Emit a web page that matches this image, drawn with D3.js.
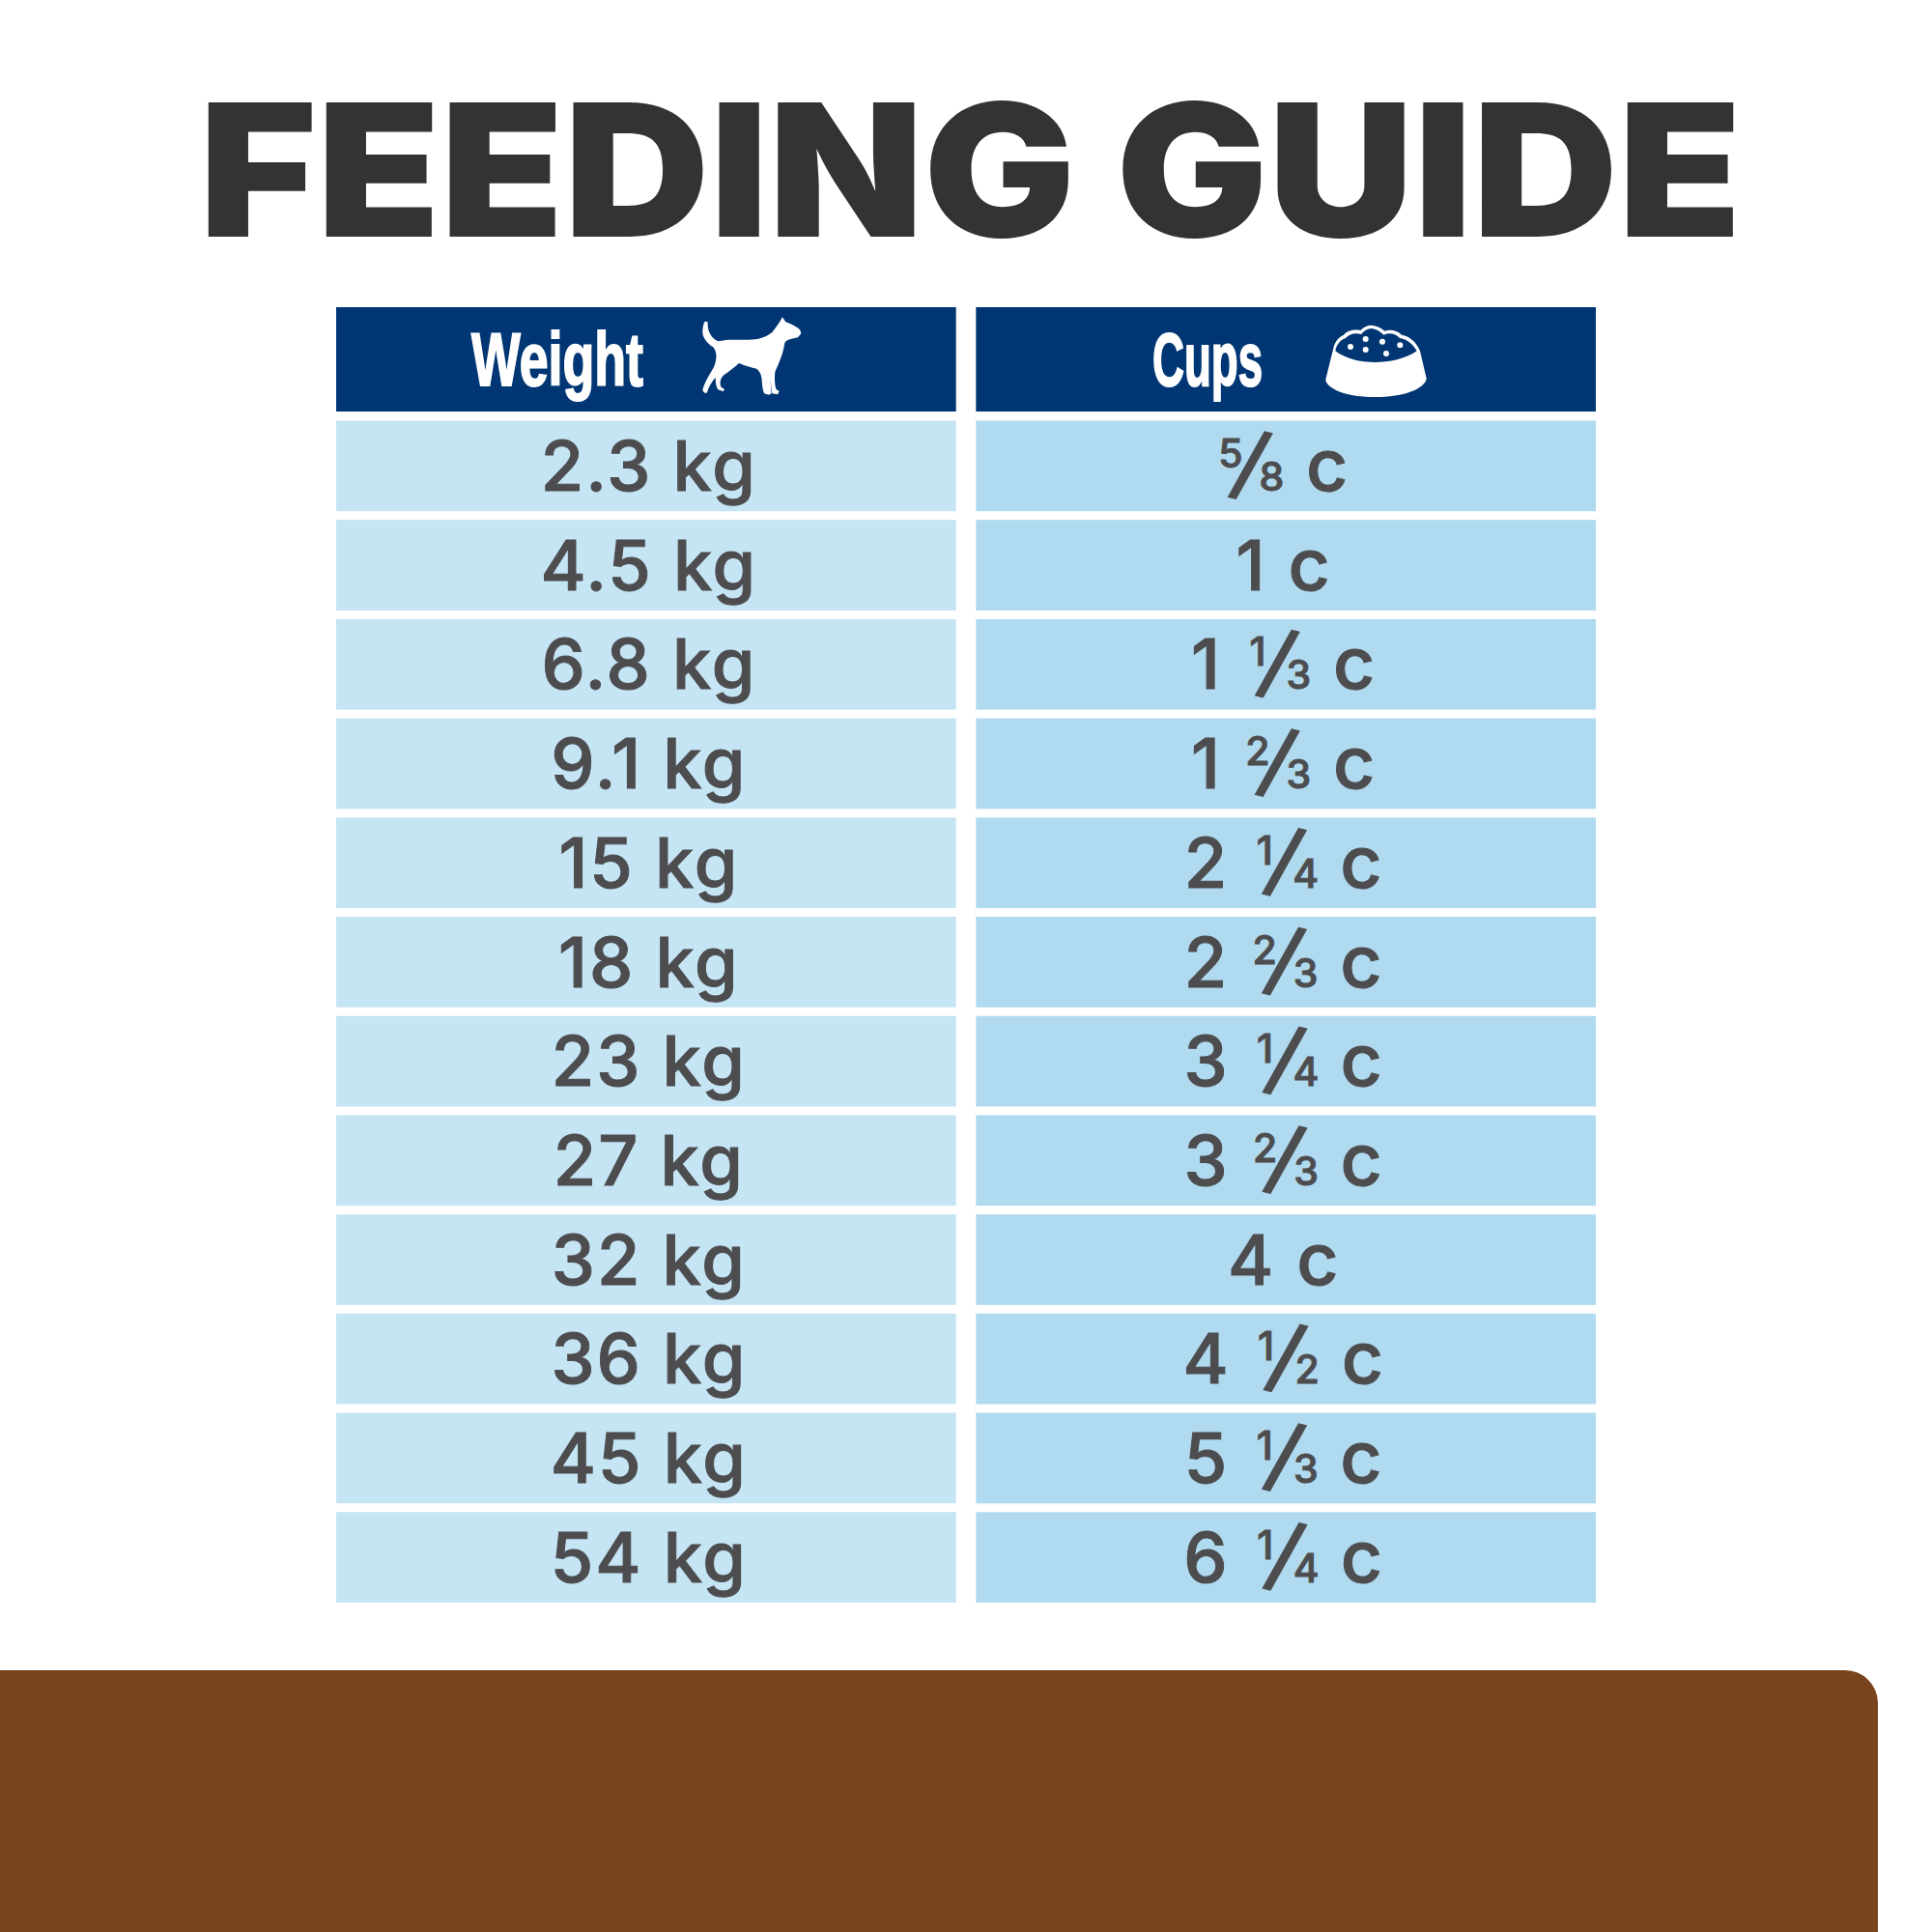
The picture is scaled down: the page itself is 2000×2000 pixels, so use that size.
<!DOCTYPE html>
<html>
<head>
<meta charset="utf-8">
<script src="https://cdn.jsdelivr.net/npm/d3@7"></script>
<style>
    html, body { margin: 0; padding: 0; background: #fff; }
    svg { display: block; }
</style>
</head>
<body>
<div id="chart"></div>
<script>
// table values
const weights = ["2.3", "4.5", "6.8", "9.1", "15", "18", "23", "27", "32", "36", "45", "54"];
const cupsWhole = ["", "1", "1", "1", "2", "2", "3", "3", "4", "4", "5", "6"];
const cupsNum = ["5", "", "1", "2", "1", "2", "1", "2", "", "1", "1", "1"];
const cupsDen = ["8", "", "3", "3", "4", "3", "4", "3", "", "2", "3", "4"];
const columns = ["Weight", "Cups"];

const TEXT_FONT = "Inter, 'Noto Sans', sans-serif";
const TEXT_COLOR = "#4d4d4f";
const TEXT_WEIGHT = 500;
const TEXT_THICKEN = 1; // the reference sits between Inter 500 and 600
const NAVY = "#003673";

let svg = d3.select("#chart").append("svg")
    .attr("width", 2000)
    .attr("height", 2000);

svg.append("rect")
    .attr("width", 2000)
    .attr("height", 2000)
    .attr("fill", "#fff");

svg.append("text")
    .attr("x", 206)
    .attr("y", 245)
    .attr("textLength", 1597)
    .attr("lengthAdjust", "spacingAndGlyphs")
    .attr("font-family", TEXT_FONT)
    .attr("font-weight", 900)
    .attr("font-size", 191)
    .attr("fill", "#333333")
    .text("FEEDING GUIDE");

// brown panel, runs off the page on the left and bottom
svg.append("path")
    .attr("fill", "#78441d")
    .attr("d", "M0,1729H1910A34,34 0 0 1 1944,1763V2000H0Z");

let xScale = d3.scaleBand()
    .domain(columns)
    .range([348, 1652])
    .paddingInner(0.0311)
    .paddingOuter(0);

let yScale = d3.scaleBand()
    .domain(d3.range(weights.length))
    .range([435.5, 1659])
    .paddingInner(0.0875)
    .paddingOuter(0);

// header bars
svg.selectAll("rect.head")
    .data(columns)
    .enter()
    .append("rect")
    .attr("class", "head")
    .attr("x", d => xScale(d))
    .attr("y", 318)
    .attr("width", xScale.bandwidth())
    .attr("height", 108)
    .attr("fill", NAVY);

// condensed header words: squeeze bold text into the measured width
let headLabels = [
    { label: "Weight", x: 488, w: 178 },
    { label: "Cups", x: 1193, w: 114 }
];
svg.selectAll("text.head")
    .data(headLabels)
    .enter()
    .append("text")
    .attr("class", "head")
    .attr("x", d => d.x)
    .attr("y", 399)
    .attr("textLength", d => d.w)
    .attr("lengthAdjust", "spacingAndGlyphs")
    .attr("font-family", "'Liberation Sans', sans-serif")
    .attr("font-weight", 700)
    .attr("font-size", 78)
    .attr("fill", "#fff")
    .attr("stroke", "#fff")
    .attr("stroke-width", 2)
    .text(d => d.label);

let dog = svg.append("g").attr("transform", "translate(720,320) scale(0.3333)");
dog.append("path")
    .attr("fill", "#fff")
    .attr("d", "M30,38 C24,42 22,60 22,75 C24,92 40,110 55,118 C68,135 66,155 58,178 " +
        "C48,198 32,218 22,250 C24,260 32,264 36,258 C42,240 50,225 62,212 " +
        "C62,228 64,242 70,250 L86,256 L90,248 L80,243 C74,232 76,215 88,205 C105,192 122,180 135,168 " +
        "C150,175 175,182 190,185 C200,195 206,205 206,222 C207,235 208,250 213,262 L228,266 L236,262 L232,215 " +
        "L238,262 L255,265 L260,255 L250,248 C246,235 245,215 247,195 C258,170 272,140 277,105 " +
        "C282,95 300,92 318,88 L328,76 L325,65 C315,55 295,45 280,40 L270,25 C262,40 252,55 238,72 " +
        "C218,88 195,95 165,95 L100,95 L70,100 C50,90 36,70 38,40 Z");

let bowl = svg.append("g").attr("transform", "translate(1365,330) scale(0.3333)");
bowl.append("path")
    .attr("fill", "#fff")
    .attr("d", "M44,100 C48,78 58,58 78,50 C88,38 108,32 130,36 C140,26 150,20 165,20 C180,22 195,28 205,38 " +
        "C222,32 245,36 258,50 C285,54 305,75 315,100 L335,185 C335,205 290,243 175,243 C70,243 22,210 22,188 Z");
bowl.append("path")
    .attr("fill", NAVY)
    .attr("d", "M52,100 C55,82 66,66 84,60 C95,48 112,42 132,48 C142,36 152,30 165,30 C178,32 190,38 202,50 " +
        "C220,42 240,46 252,60 C278,64 295,82 305,100 C270,125 220,135 175,135 C130,135 85,125 52,100 Z");
bowl.selectAll("circle")
    .data([[99, 87], [146, 63], [146, 96], [198, 71], [210, 108], [253, 82]])
    .enter()
    .append("circle")
    .attr("cx", d => d[0])
    .attr("cy", d => d[1])
    .attr("r", 9)
    .attr("fill", "#fff");

// left column
svg.selectAll("rect.weight")
    .data(weights)
    .enter()
    .append("rect")
    .attr("class", "weight")
    .attr("x", xScale("Weight"))
    .attr("y", (d, i) => yScale(i))
    .attr("width", xScale.bandwidth())
    .attr("height", yScale.bandwidth())
    .attr("fill", "#c5e4f4");

svg.selectAll("text.weight")
    .data(weights)
    .enter()
    .append("text")
    .attr("class", "weight")
    .attr("x", xScale("Weight") + xScale.bandwidth() / 2 + 3)
    .attr("y", (d, i) => yScale(i) + 72.5)
    .attr("text-anchor", "middle")
    .attr("font-family", TEXT_FONT)
    .attr("font-weight", TEXT_WEIGHT)
    .attr("font-size", 72)
    .attr("letter-spacing", 2)
    .attr("fill", TEXT_COLOR)
    .attr("stroke", TEXT_COLOR)
    .attr("stroke-width", TEXT_THICKEN)
    .text(d => d + " kg");

// right column
svg.selectAll("rect.cups")
    .data(cupsWhole)
    .enter()
    .append("rect")
    .attr("class", "cups")
    .attr("x", xScale("Cups"))
    .attr("y", (d, i) => yScale(i))
    .attr("width", xScale.bandwidth())
    .attr("height", yScale.bandwidth())
    .attr("fill", "#b0daf0");

const FRACTION_WIDTH = 66;
const SIZE_WHOLE = 72;
const SIZE_C = 75;
const SIZE_FRAC = 41;
const SIZE_SLASH = 86;

function cellText(size) {
    return svg.append("text")
        .attr("font-family", TEXT_FONT)
        .attr("font-weight", TEXT_WEIGHT)
        .attr("font-size", size)
        .attr("fill", TEXT_COLOR)
        .attr("stroke", TEXT_COLOR)
        .attr("stroke-width", TEXT_THICKEN);
}

function measure(str, size) {
    let probe = cellText(size).text(str);
    let w = probe.node().getComputedTextLength();
    probe.remove();
    return w;
}

cupsWhole.forEach((whole, i) => {
    let base = yScale(i) + 72.5;
    let hasFraction = cupsNum[i] !== "";
    let wholeGap = hasFraction && whole !== "" ? 26 : 0;
    let wholeWidth = whole !== "" ? measure(whole, SIZE_WHOLE) : 0;
    let cWidth = measure("c", SIZE_C);
    let fracWidth = hasFraction ? FRACTION_WIDTH : 0;
    let cGap = hasFraction ? 25 : 24;
    let total = wholeWidth + wholeGap + fracWidth + cGap + cWidth;
    let x = xScale("Cups") + xScale.bandwidth() / 2 - total / 2 - 3;

    // one text per cell, each piece placed with its own tspan
    let cell = cellText(SIZE_WHOLE).attr("class", "cup-cell").attr("y", base);

    if (whole !== "") {
        cell.append("tspan")
            .attr("x", x)
            .attr("y", base)
            .text(whole);
    }
    x += wholeWidth + wholeGap;

    if (hasFraction) {
        let mid = x + FRACTION_WIDTH / 2;
        cell.append("tspan")
            .attr("x", mid - 20)
            .attr("y", base - 24)
            .attr("font-size", SIZE_FRAC)
            .style("text-anchor", "middle")
            .text(cupsNum[i]);
        cell.append("tspan")
            .attr("x", mid - 6)
            .attr("y", base - 3)
            .attr("font-size", SIZE_SLASH)
            .attr("rotate", 14)
            .style("text-anchor", "middle")
            .text("/");
        cell.append("tspan")
            .attr("x", mid + 22.5)
            .attr("y", base)
            .attr("font-size", SIZE_FRAC)
            .style("text-anchor", "middle")
            .text(cupsDen[i]);
        x += fracWidth;
    }

    cell.append("tspan")
        .attr("x", x + cGap)
        .attr("y", base)
        .attr("font-size", SIZE_C)
        .text("c");
});
</script>
</body>
</html>
